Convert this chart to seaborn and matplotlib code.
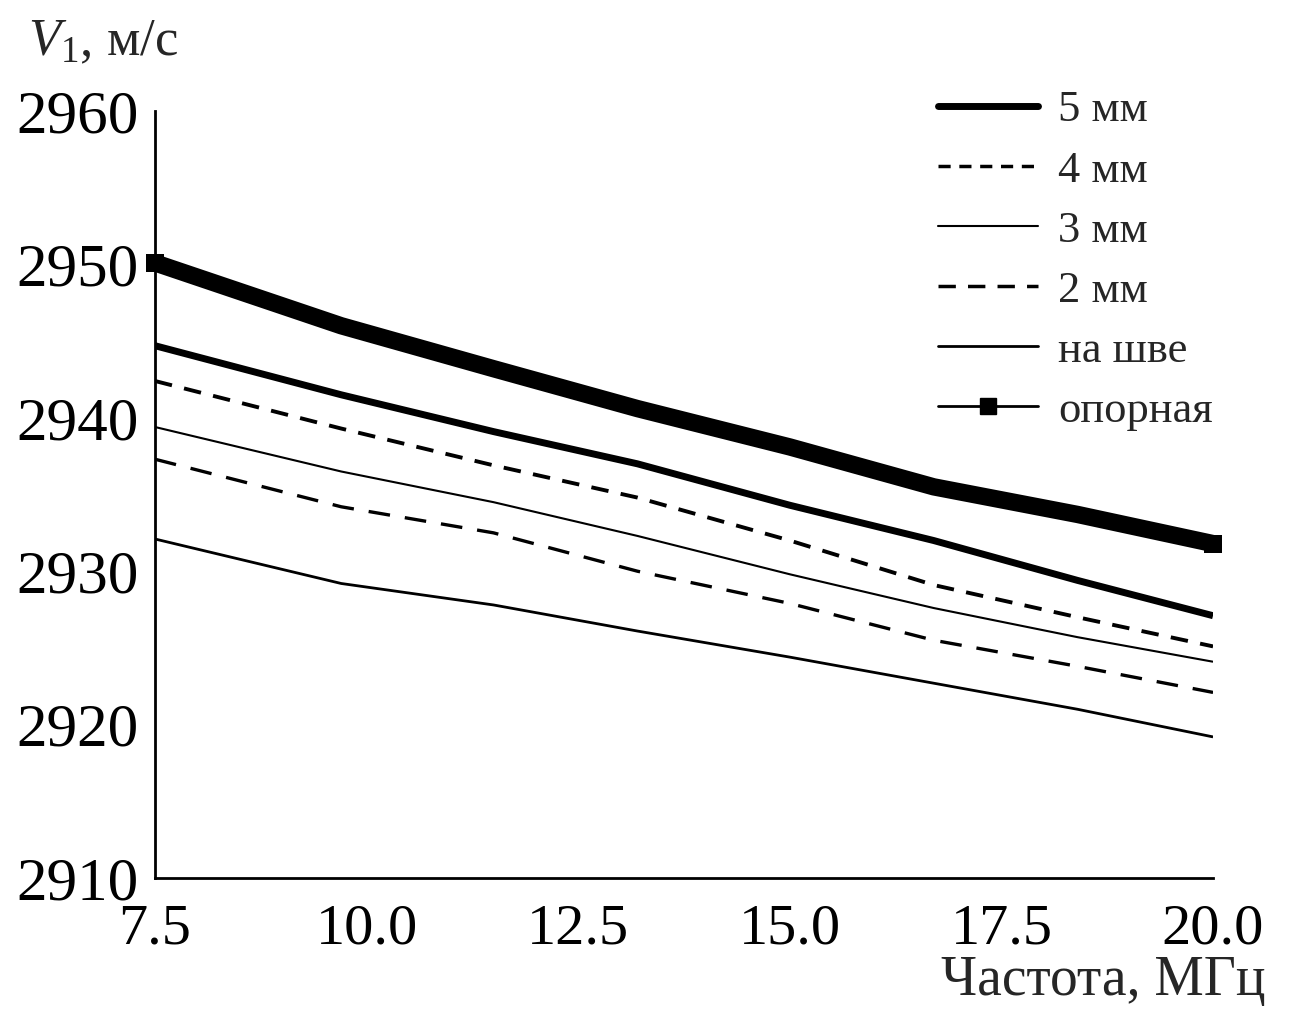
import matplotlib
matplotlib.use("Agg")
import matplotlib.pyplot as plt
from matplotlib.lines import Line2D
import seaborn as sns
import pandas as pd

freq = [7.5, 9.7, 11.5, 13.2, 15.0, 16.7, 18.4, 20.0]
v_5mm = [2944.7, 2941.5, 2939.1, 2937.0, 2934.3, 2932.0, 2929.4, 2927.1]
v_4mm = [2942.4, 2939.3, 2936.9, 2934.8, 2932.0, 2929.1, 2927.0, 2925.1]
v_3mm = [2939.4, 2936.5, 2934.5, 2932.3, 2929.8, 2927.6, 2925.7, 2924.1]
v_2mm = [2937.3, 2934.2, 2932.5, 2930.0, 2927.9, 2925.5, 2923.8, 2922.1]
v_seam = [2932.1, 2929.2, 2927.8, 2926.1, 2924.4, 2922.7, 2921.0, 2919.2]
v_ref = [2950.1, 2946.0, 2943.2, 2940.6, 2938.1, 2935.5, 2933.7, 2931.8]

labels = ["5 мм", "4 мм", "3 мм", "2 мм", "на шве", "опорная"]
xticks = [7.5, 10.0, 12.5, 15.0, 17.5, 20.0]
yticks = [2910, 2920, 2930, 2940, 2950, 2960]

sns.set_theme(style="white")
plt.rcParams['font.family'] = ['Liberation Serif', 'DejaVu Serif']
plt.rcParams['mathtext.fontset'] = 'custom'
plt.rcParams['mathtext.rm'] = 'Liberation Serif'
plt.rcParams['mathtext.it'] = 'Liberation Serif:italic'

fig = plt.figure(figsize=(12.95, 10.09), dpi=100)
ax = fig.add_axes([0.1197, 0.1298, 0.8170, 0.7602])

series = [v_5mm, v_4mm, v_3mm, v_2mm, v_seam]
styles = [
    dict(lw=5.0, ls='-'),
    dict(lw=2.8, ls=(0, (4.5, 3.2))),
    dict(lw=1.5, ls='-'),
    dict(lw=2.4, ls=(0, (6.5, 4.5))),
    dict(lw=2.0, ls='-'),
]
for vals, st in zip(series, styles):
    df = pd.DataFrame({"f": freq, "v": vals})
    sns.lineplot(data=df, x="f", y="v", ax=ax, color="black",
                 linewidth=st['lw'], linestyle=st['ls'], legend=False,
                 solid_capstyle='butt')

df_ref = pd.DataFrame({"f": freq, "v": v_ref})
sns.lineplot(data=df_ref, x="f", y="v", ax=ax, color="black",
             linewidth=12.5, legend=False, solid_capstyle='butt',
             marker='s', markersize=13, markevery=[0, len(freq) - 1],
             markeredgewidth=0, clip_on=False)

ax.set_xlim(7.5, 20.0)
ax.set_ylim(2910, 2960)
ax.set_xticks(xticks)
ax.set_xticklabels([f"{t:.1f}" for t in xticks])
ax.set_yticks(yticks)
ax.set_yticklabels([str(t) for t in yticks])
ax.tick_params(direction='in', length=14, width=1.8, labelsize=42,
               colors='black', pad=12)
ax.tick_params(axis='y', labelsize=44)
ax.tick_params(axis='x', pad=18)
for side in ['top', 'right']:
    ax.spines[side].set_visible(False)
for side in ['left', 'bottom']:
    ax.spines[side].set_linewidth(2.0)
    ax.spines[side].set_color('black')
ax.set_xlabel("")
ax.set_ylabel("")

handles = [
    Line2D([], [], color='black', lw=5.0),
    Line2D([], [], color='black', lw=2.5, ls=(0, (3.5, 2.5))),
    Line2D([], [], color='black', lw=1.5),
    Line2D([], [], color='black', lw=2.5, ls=(0, (5, 3.5))),
    Line2D([], [], color='black', lw=2.0),
    Line2D([], [], color='black', lw=2.0, marker='s', markersize=11),
]
ax.legend(handles, labels, loc='upper right', bbox_to_anchor=(1.0, 1.027),
          frameon=False, fontsize=32, handlelength=2.25, handletextpad=0.45,
          labelspacing=0.45, borderaxespad=0.0, borderpad=0.0)

fig.text(0.022, 0.945, r"$V_1$, м/с", fontsize=38, ha='left', va='baseline')
fig.text(0.977, 0.014, "Частота, МГц", fontsize=40, ha='right', va='baseline')

fig.savefig("out.png", dpi=100, facecolor='white')
